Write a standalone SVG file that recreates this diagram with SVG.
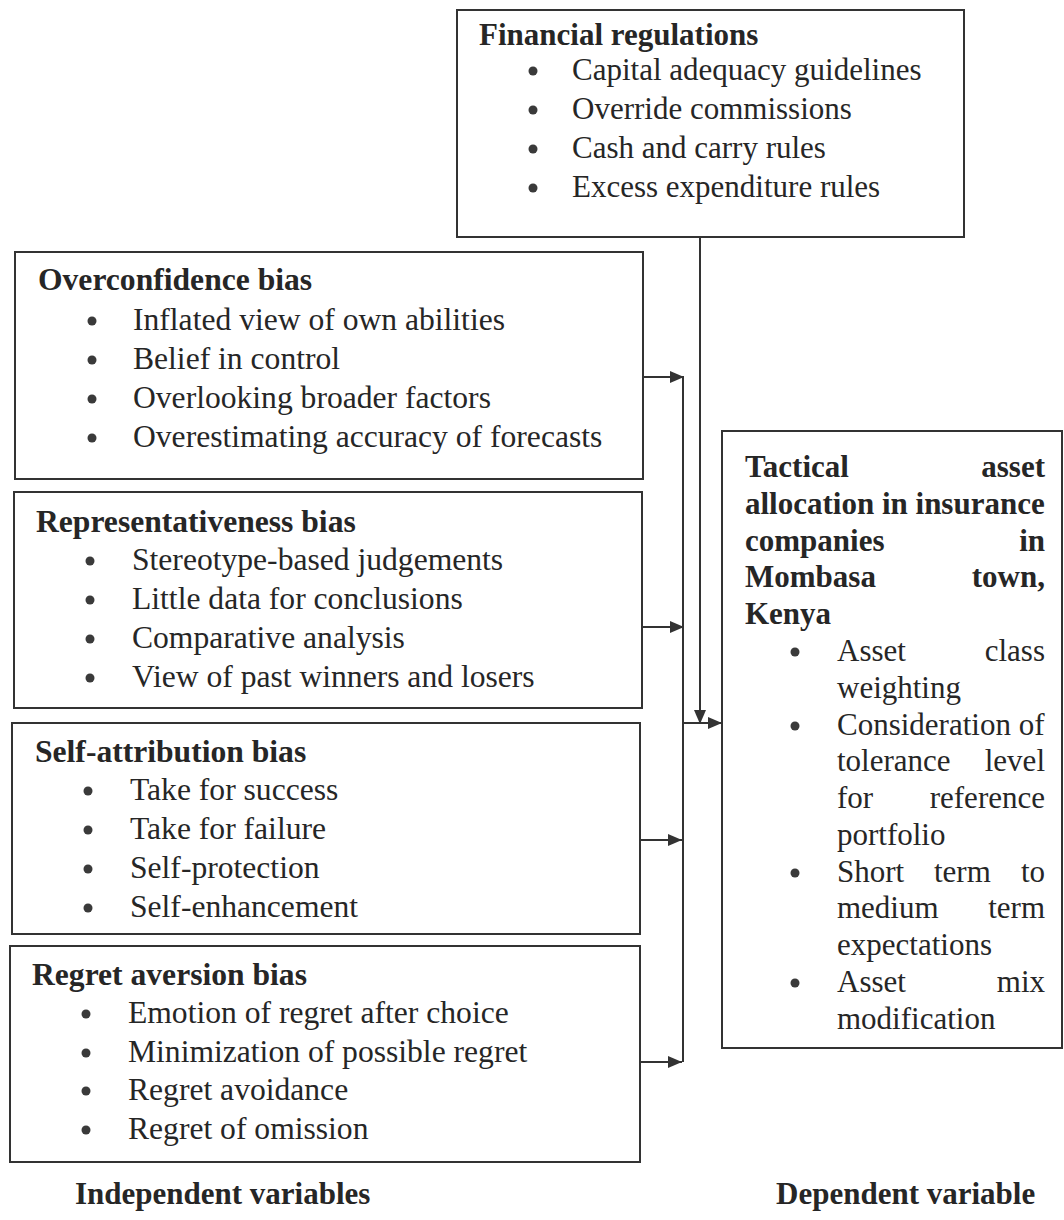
<svg xmlns="http://www.w3.org/2000/svg" width="1064" height="1220" viewBox="0 0 1064 1220">
<style>
.box{fill:none;stroke:#333;stroke-width:2}
.t{font-family:"Liberation Serif","Times New Roman",serif;font-size:31px;fill:#262626}
.L{font-size:31.6px}
.b{font-weight:bold}
.e{text-anchor:end}
.dot{fill:#3a3a3a}
.ln{fill:none;stroke:#333;stroke-width:2}
</style>
<defs>
<marker id="ah" markerUnits="userSpaceOnUse" markerWidth="14" markerHeight="12" refX="14" refY="6" orient="auto">
<path d="M0,0 L14,6 L0,12 z" fill="#333"/>
</marker>
</defs>
<rect width="1064" height="1220" fill="#fff"/>

<g id="financial">
<rect class="box" x="457" y="10" width="507" height="227"/>
<text class="t b" x="479" y="45">Financial regulations</text>
<circle class="dot" cx="533" cy="71" r="4.5"/><text class="t" x="572" y="80">Capital adequacy guidelines</text>
<circle class="dot" cx="533" cy="110" r="4.5"/><text class="t" x="572" y="119">Override commissions</text>
<circle class="dot" cx="533" cy="149" r="4.5"/><text class="t" x="572" y="158">Cash and carry rules</text>
<circle class="dot" cx="533" cy="188" r="4.5"/><text class="t" x="572" y="197">Excess expenditure rules</text>
</g>

<g id="overconfidence">
<rect class="box" x="15" y="252" width="628" height="227"/>
<text class="t L b" x="38" y="290">Overconfidence bias</text>
<circle class="dot" cx="92" cy="321" r="4.5"/><text class="t L" x="133" y="330">Inflated view of own abilities</text>
<circle class="dot" cx="92" cy="360" r="4.5"/><text class="t L" x="133" y="369">Belief in control</text>
<circle class="dot" cx="92" cy="399" r="4.5"/><text class="t L" x="133" y="408">Overlooking broader factors</text>
<circle class="dot" cx="92" cy="438" r="4.5"/><text class="t L" x="133" y="447">Overestimating accuracy of forecasts</text>
</g>

<g id="representativeness">
<rect class="box" x="14" y="492" width="628" height="216"/>
<text class="t L b" x="36" y="532">Representativeness bias</text>
<circle class="dot" cx="90" cy="561" r="4.5"/><text class="t L" x="132" y="570">Stereotype-based judgements</text>
<circle class="dot" cx="90" cy="600" r="4.5"/><text class="t L" x="132" y="609">Little data for conclusions</text>
<circle class="dot" cx="90" cy="639" r="4.5"/><text class="t L" x="132" y="648">Comparative analysis</text>
<circle class="dot" cx="90" cy="678" r="4.5"/><text class="t L" x="132" y="687">View of past winners and losers</text>
</g>

<g id="selfattribution">
<rect class="box" x="12" y="723" width="628" height="211"/>
<text class="t L b" x="35" y="762">Self-attribution bias</text>
<circle class="dot" cx="88" cy="791" r="4.5"/><text class="t L" x="130" y="800">Take for success</text>
<circle class="dot" cx="88" cy="830" r="4.5"/><text class="t L" x="130" y="839">Take for failure</text>
<circle class="dot" cx="88" cy="869" r="4.5"/><text class="t L" x="130" y="878">Self-protection</text>
<circle class="dot" cx="88" cy="908" r="4.5"/><text class="t L" x="130" y="917">Self-enhancement</text>
</g>

<g id="regret">
<rect class="box" x="10" y="946" width="630" height="216"/>
<text class="t L b" x="32" y="985">Regret aversion bias</text>
<circle class="dot" cx="86" cy="1014" r="4.5"/><text class="t L" x="128" y="1023">Emotion of regret after choice</text>
<circle class="dot" cx="86" cy="1053" r="4.5"/><text class="t L" x="128" y="1062">Minimization of possible regret</text>
<circle class="dot" cx="86" cy="1091" r="4.5"/><text class="t L" x="128" y="1100">Regret avoidance</text>
<circle class="dot" cx="86" cy="1130" r="4.5"/><text class="t L" x="128" y="1139">Regret of omission</text>
</g>

<g id="dependent">
<rect class="box" x="722" y="431" width="340" height="617"/>
<text class="t b" x="745" y="477">Tactical</text><text class="t b e" x="1045" y="477">asset</text>
<text class="t b" x="745" y="514">allocation in insurance</text>
<text class="t b" x="745" y="551">companies</text><text class="t b e" x="1045" y="551">in</text>
<text class="t b" x="745" y="587">Mombasa</text><text class="t b e" x="1045" y="587">town,</text>
<text class="t b" x="745" y="624">Kenya</text>
<circle class="dot" cx="795" cy="652" r="4.5"/><text class="t" x="837" y="661">Asset</text><text class="t e" x="1045" y="661">class</text>
<text class="t" x="837" y="698">weighting</text>
<circle class="dot" cx="795" cy="726" r="4.5"/><text class="t" x="837" y="735">Consideration of</text>
<text class="t" x="837" y="771">tolerance</text><text class="t e" x="1045" y="771">level</text>
<text class="t" x="837" y="808">for</text><text class="t e" x="1045" y="808">reference</text>
<text class="t" x="837" y="845">portfolio</text>
<circle class="dot" cx="795" cy="873" r="4.5"/><text class="t" x="837" y="882">Short</text><text class="t" x="934" y="882">term</text><text class="t e" x="1045" y="882">to</text>
<text class="t" x="837" y="918">medium</text><text class="t e" x="1045" y="918">term</text>
<text class="t" x="837" y="955">expectations</text>
<circle class="dot" cx="795" cy="983" r="4.5"/><text class="t" x="837" y="992">Asset</text><text class="t e" x="1045" y="992">mix</text>
<text class="t" x="837" y="1029">modification</text>
</g>

<g id="connectors">
<path class="ln" d="M643,377 H684" marker-end="url(#ah)"/>
<path class="ln" d="M642,627 H684" marker-end="url(#ah)"/>
<path class="ln" d="M640,840 H682" marker-end="url(#ah)"/>
<path class="ln" d="M640,1062 H682" marker-end="url(#ah)"/>
<path class="ln" d="M683,377 V1062"/>
<path class="ln" d="M683,723 H722" marker-end="url(#ah)"/>
<path class="ln" d="M700,237 V724" marker-end="url(#ah)"/>
</g>

<g id="labels">
<text class="t b" x="75" y="1204">Independent variables</text>
<text class="t b" x="776" y="1204">Dependent variable</text>
</g>
</svg>
